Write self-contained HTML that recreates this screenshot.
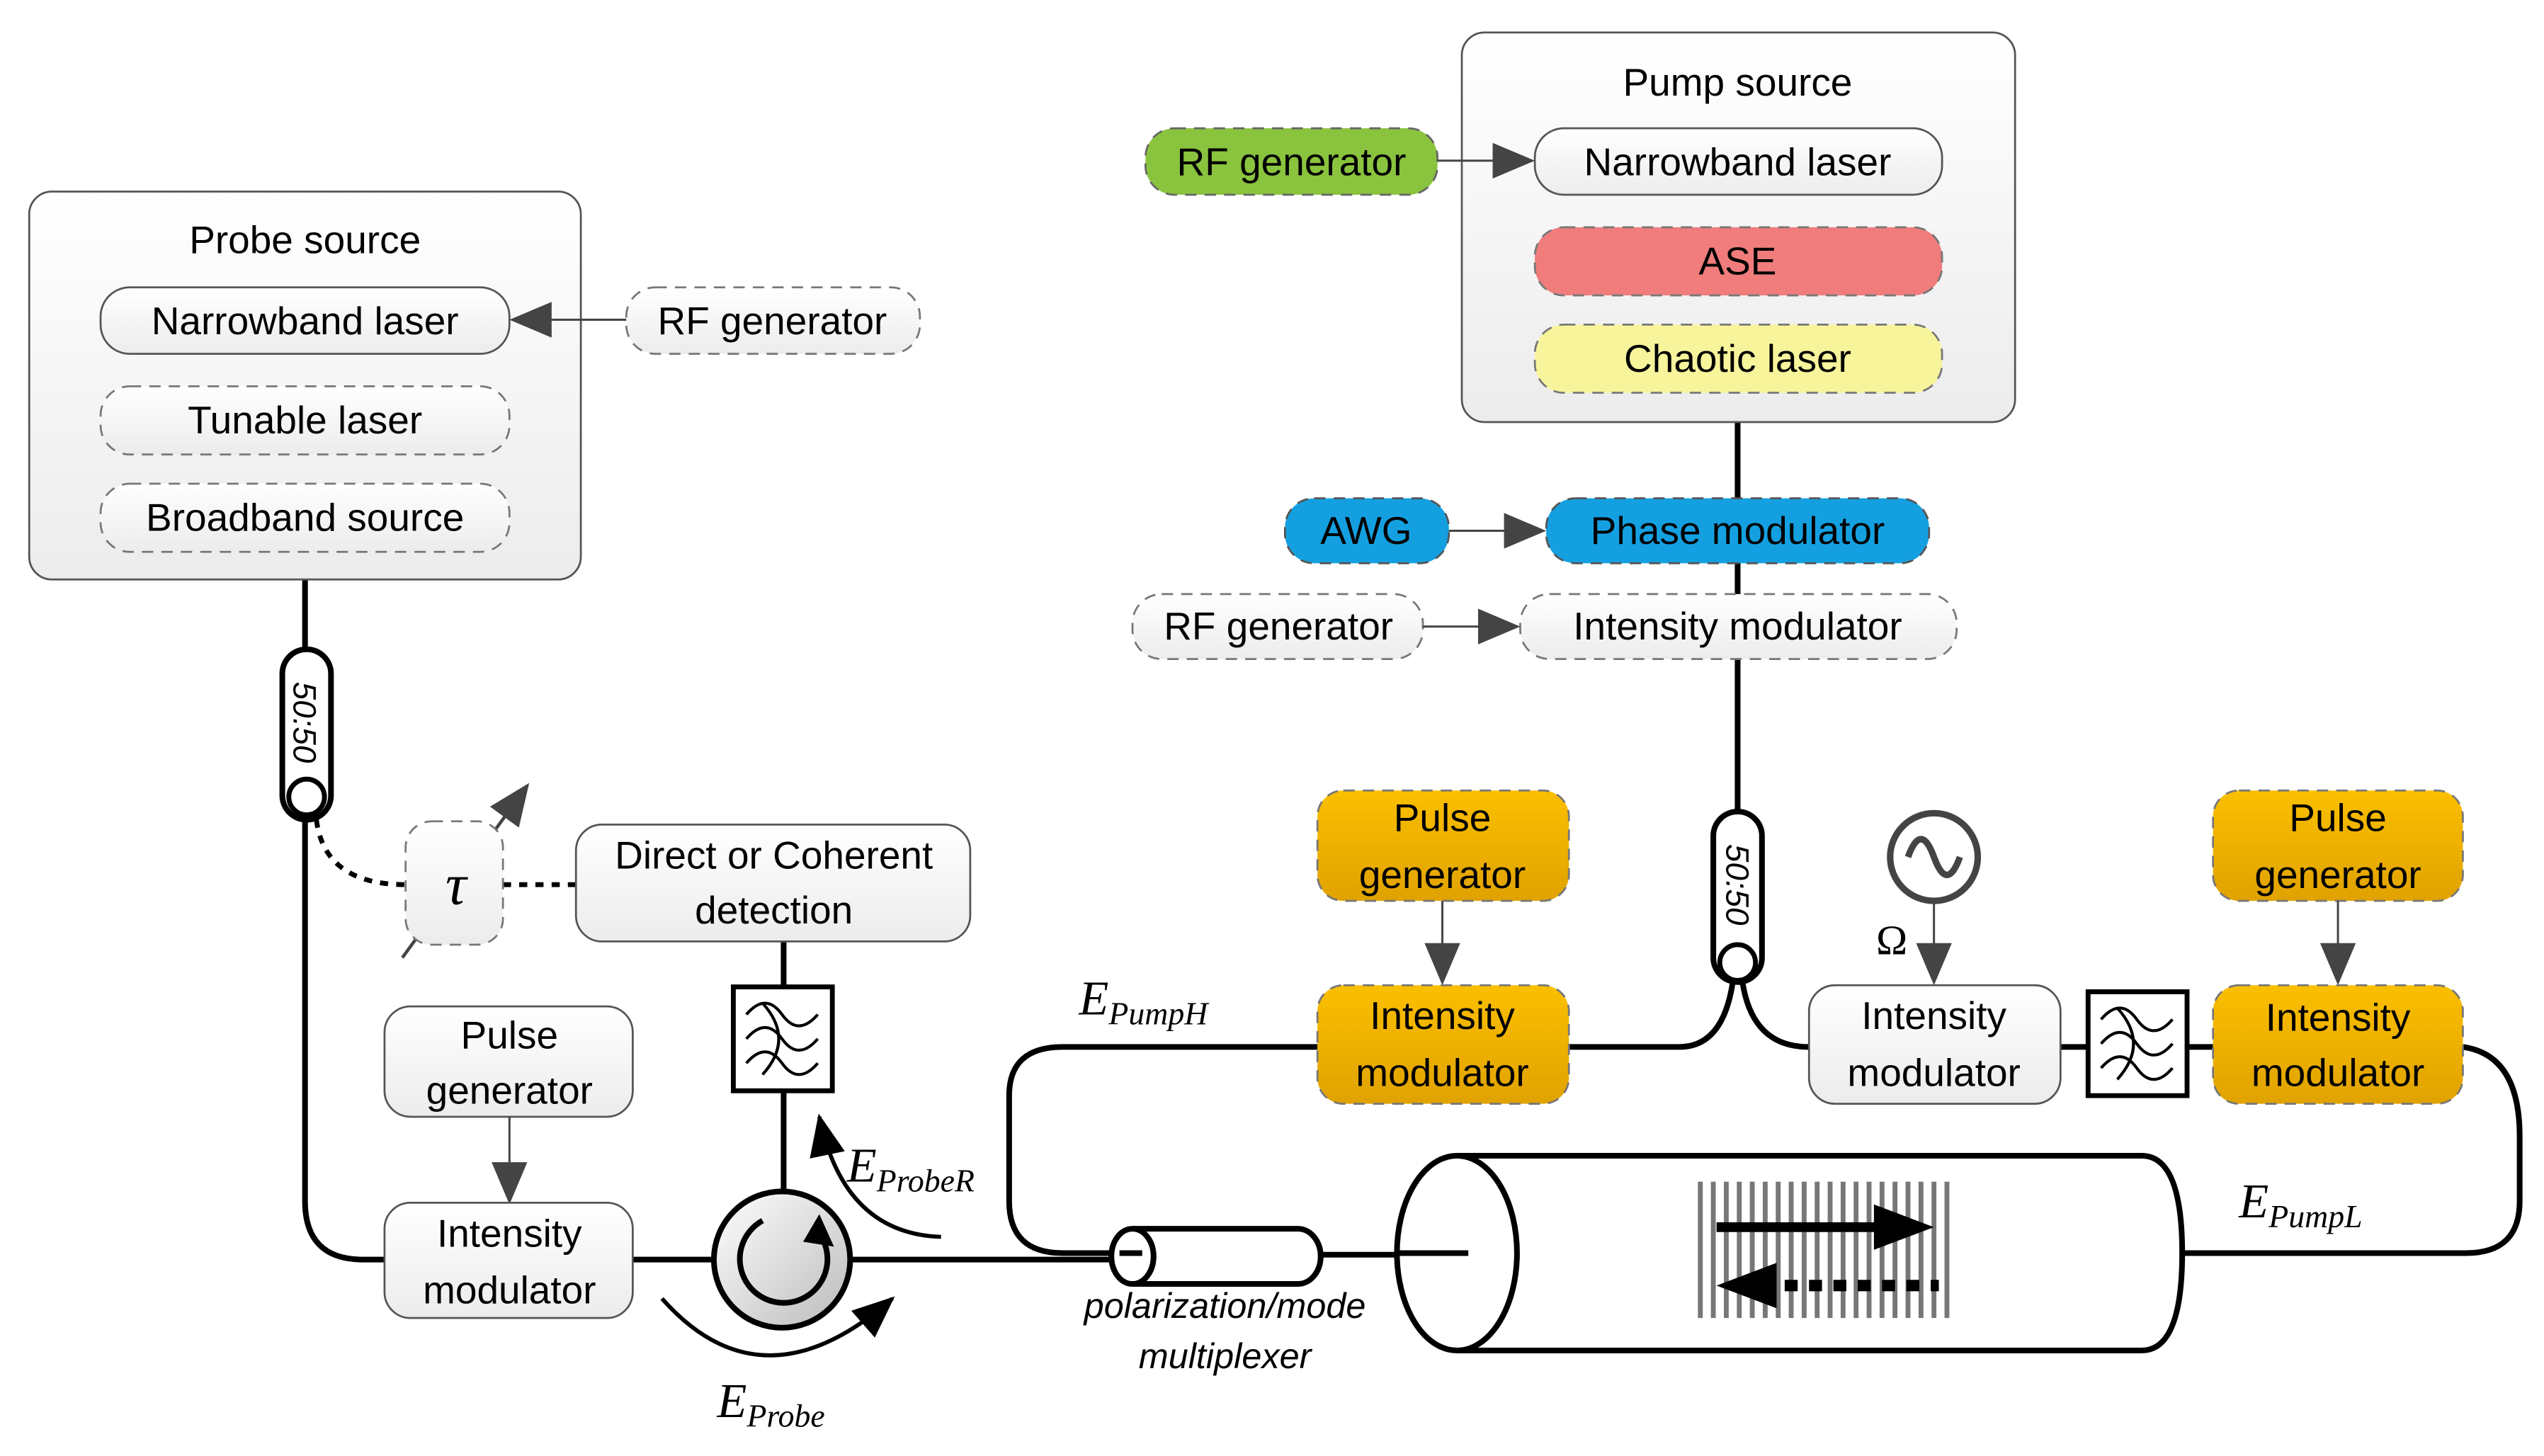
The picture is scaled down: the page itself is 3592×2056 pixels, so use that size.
<!DOCTYPE html>
<html><head><meta charset="utf-8"><style>
html,body{margin:0;padding:0;background:#fff}
svg{display:block}
text{font-family:"Liberation Sans",sans-serif;font-size:24px;fill:#000;text-anchor:middle}
.m{font-family:"Liberation Serif",serif;font-style:italic;text-anchor:start}
</style></head><body>
<svg width="3592" height="2056" viewBox="0 0 1568 897" preserveAspectRatio="none" xmlns="http://www.w3.org/2000/svg">
<defs>
<linearGradient id="g" x1="0" y1="0" x2="0" y2="1"><stop offset="0" stop-color="#ffffff"/><stop offset="1" stop-color="#ececec"/></linearGradient>
<linearGradient id="o" x1="0" y1="0" x2="0" y2="1"><stop offset="0" stop-color="#fbbf00"/><stop offset="1" stop-color="#e0a200"/></linearGradient>
<linearGradient id="c" x1="0" y1="0" x2="1" y2="1"><stop offset="0" stop-color="#fff"/><stop offset="1" stop-color="#bbb"/></linearGradient>
<marker id="A" markerWidth="26" markerHeight="22" refX="24" refY="11" orient="auto" markerUnits="userSpaceOnUse"><path d="M0,0 L26,11 L0,22 z" fill="#444"/></marker>
<marker id="B" markerWidth="26" markerHeight="22" refX="24" refY="11" orient="auto" markerUnits="userSpaceOnUse"><path d="M0,0 L26,11 L0,22 z" fill="#000"/></marker>
</defs>
<g fill="none" stroke="#000" stroke-width="3.5">
<path d="M188,357 V400"/>
<path d="M188,505 V740 Q188,776 224,776 H237"/>
<path d="M390,776 H440"/>
<path d="M524,776 H690"/>
<path d="M483,580 V608 M483,672 V735"/>
<path d="M815,773 H900"/>
<path d="M690,772 H655 Q622,772 622,740 V675 Q622,645 655,645 H812"/>
<path d="M967,645 H1035 Q1062,645 1068,605"/>
<path d="M1074,605 Q1080,645 1115,645"/>
<path d="M1071,260 V500"/>
<path d="M1270,645 H1287 M1348,645 H1364"/>
<path d="M1518,645 Q1553,650 1553,700 V740 Q1553,772 1520,772 H1345"/>
</g>
<path d="M195,505 Q200,545 250,545" fill="none" stroke="#000" stroke-width="3" stroke-dasharray="5,5"/>
<path d="M310,545 H355" fill="none" stroke="#000" stroke-width="3" stroke-dasharray="5,5"/>
<rect x="18" y="118" width="340" height="239" rx="14" fill="url(#g)" stroke="#555" stroke-width="1.2"/>
<text x="188" y="156">Probe source</text>
<rect x="62" y="177" width="252" height="41" rx="18" fill="url(#g)" stroke="#555" stroke-width="1.2"/>
<text x="188" y="206">Narrowband laser</text>
<rect x="62" y="238" width="252" height="42" rx="18" fill="url(#g)" stroke="#777" stroke-width="1.2" stroke-dasharray="7,5"/>
<text x="188" y="267">Tunable laser</text>
<rect x="62" y="298" width="252" height="42" rx="18" fill="url(#g)" stroke="#777" stroke-width="1.2" stroke-dasharray="7,5"/>
<text x="188" y="327">Broadband source</text>
<rect x="386" y="177" width="181" height="41" rx="18" fill="url(#g)" stroke="#777" stroke-width="1.2" stroke-dasharray="7,5"/>
<text x="476" y="206">RF generator</text>
<line x1="386" y1="197" x2="316" y2="197" stroke="#444" stroke-width="1.3" marker-end="url(#A)"/>
<rect x="174" y="400" width="30" height="105" rx="15" fill="#fff" stroke="#000" stroke-width="3.5"/>
<circle cx="189" cy="491" r="11" fill="#fff" stroke="#000" stroke-width="3"/>
<text transform="translate(181,445) rotate(90)" style="font-size:20px;font-style:italic">50:50</text>
<line x1="248" y1="590" x2="325" y2="484" stroke="#444" stroke-width="2" marker-end="url(#A)"/>
<rect x="250" y="506" width="60" height="76" rx="16" fill="url(#g)" stroke="#777" stroke-width="1.2" stroke-dasharray="7,5"/>
<text x="281" y="557" style="font-family:'Liberation Serif',serif;font-style:italic;font-size:36px">τ</text>
<rect x="355" y="508" width="243" height="72" rx="16" fill="url(#g)" stroke="#555" stroke-width="1.2"/>
<text x="477" y="535">Direct or Coherent</text>
<text x="477" y="569">detection</text>
<rect x="452" y="608" width="61" height="64" fill="#fff" stroke="#000" stroke-width="3"/>
<g fill="none" stroke="#000" stroke-width="1.8"><path d="M460,625 q12,-14 22,0 t22,0 M460,640 q12,-14 22,0 t22,0 M460,655 q12,-14 22,0 t22,0"/><path d="M470,618 Q490,640 470,662"/></g>
<rect x="237" y="620" width="153" height="68" rx="16" fill="url(#g)" stroke="#555" stroke-width="1.2"/>
<text x="314" y="646">Pulse</text><text x="314" y="680">generator</text>
<line x1="314" y1="688" x2="314" y2="740" stroke="#444" stroke-width="1.3" marker-end="url(#A)"/>
<rect x="237" y="741" width="153" height="71" rx="16" fill="url(#g)" stroke="#555" stroke-width="1.2"/>
<text x="314" y="768">Intensity</text><text x="314" y="803">modulator</text>
<circle cx="482" cy="776" r="42" fill="url(#c)" stroke="#000" stroke-width="3.5"/>
<path d="M505,760 A27,27 0 1 1 470,752" fill="none" stroke="#000" stroke-width="3.5"/>
<path d="M495,765 L505,748 L514,768 z" fill="#000"/>
<path d="M408,800 Q470,870 550,800" fill="none" stroke="#000" stroke-width="2.5" marker-end="url(#B)"/>
<path d="M580,762 Q520,760 505,688" fill="none" stroke="#000" stroke-width="2.5" marker-end="url(#B)"/>
<text class="m" x="522" y="728" style="font-size:30px">E<tspan style="font-size:20px" dy="6">ProbeR</tspan></text>
<text class="m" x="442" y="873" style="font-size:30px">E<tspan style="font-size:20px" dy="6">Probe</tspan></text>
<text class="m" x="665" y="625" style="font-size:30px">E<tspan style="font-size:20px" dy="6">PumpH</tspan></text>
<text class="m" x="1380" y="750" style="font-size:30px">E<tspan style="font-size:20px" dy="6">PumpL</tspan></text>
<path d="M698,757 H800 A14,17 0 0 1 800,791 H698" fill="#fff" stroke="#000" stroke-width="3.5"/>
<ellipse cx="698" cy="774" rx="13" ry="17" fill="#fff" stroke="#000" stroke-width="3.5"/>
<path d="M690,772 H704" stroke="#000" stroke-width="3.5"/>
<text x="755" y="812" style="font-style:italic;font-size:22px">polarization/mode</text>
<text x="755" y="843" style="font-style:italic;font-size:22px">multiplexer</text>
<path d="M898,712 H1320 Q1345,712 1345,772 Q1345,832 1320,832 H898" fill="#fff" stroke="#000" stroke-width="3.5"/>
<ellipse cx="898" cy="772" rx="37" ry="60" fill="#fff" stroke="#000" stroke-width="3.5"/>
<path d="M862,772 H905" stroke="#000" stroke-width="3.5"/>
<g stroke="#777" stroke-width="3">
<path d="M1048,728V812M1056,728V812M1064,728V812M1072,728V812M1080,728V812M1088,728V812M1096,728V812M1104,728V812M1112,728V812M1120,728V812M1128,728V812M1136,728V812M1144,728V812M1152,728V812M1160,728V812M1168,728V812M1176,728V812M1184,728V812M1192,728V812M1200,728V812"/>
</g>
<path d="M1058,756 H1160" stroke="#000" stroke-width="6"/>
<path d="M1155,742 L1192,756 L1155,770 z" fill="#000"/>
<path d="M1100,792 H1195" stroke="#000" stroke-width="7" stroke-dasharray="8,7"/>
<path d="M1095,778 L1058,792 L1095,806 z" fill="#000"/>
<rect x="901" y="20" width="341" height="240" rx="14" fill="url(#g)" stroke="#555" stroke-width="1.2"/>
<text x="1071" y="59">Pump source</text>
<rect x="946" y="79" width="251" height="41" rx="18" fill="url(#g)" stroke="#555" stroke-width="1.2"/>
<text x="1071" y="108">Narrowband laser</text>
<rect x="946" y="140" width="251" height="42" rx="18" fill="#f07c7c" stroke="#777" stroke-width="1.2" stroke-dasharray="7,5"/>
<text x="1071" y="169">ASE</text>
<rect x="946" y="200" width="251" height="42" rx="18" fill="#f7f49c" stroke="#777" stroke-width="1.2" stroke-dasharray="7,5"/>
<text x="1071" y="229">Chaotic laser</text>
<rect x="706" y="79" width="180" height="41" rx="18" fill="#8ac33e" stroke="#666" stroke-width="1.2" stroke-dasharray="7,5"/>
<text x="796" y="108">RF generator</text>
<line x1="886" y1="99" x2="944" y2="99" stroke="#444" stroke-width="1.3" marker-end="url(#A)"/>
<rect x="792" y="307" width="101" height="40" rx="18" fill="#14a0e0" stroke="#555" stroke-width="1.2" stroke-dasharray="7,5"/>
<text x="842" y="335">AWG</text>
<rect x="953" y="307" width="236" height="40" rx="18" fill="#14a0e0" stroke="#555" stroke-width="1.2" stroke-dasharray="7,5"/>
<text x="1071" y="335">Phase modulator</text>
<line x1="893" y1="327" x2="951" y2="327" stroke="#444" stroke-width="1.3" marker-end="url(#A)"/>
<rect x="698" y="366" width="179" height="40" rx="18" fill="url(#g)" stroke="#777" stroke-width="1.2" stroke-dasharray="7,5"/>
<text x="788" y="394">RF generator</text>
<rect x="937" y="366" width="269" height="40" rx="18" fill="url(#g)" stroke="#777" stroke-width="1.2" stroke-dasharray="7,5"/>
<text x="1071" y="394">Intensity modulator</text>
<line x1="877" y1="386" x2="935" y2="386" stroke="#444" stroke-width="1.3" marker-end="url(#A)"/>
<rect x="1056" y="500" width="30" height="105" rx="15" fill="#fff" stroke="#000" stroke-width="3.5"/>
<circle cx="1071" cy="593" r="11" fill="#fff" stroke="#000" stroke-width="3"/>
<text transform="translate(1064,545) rotate(90)" style="font-size:20px;font-style:italic">50:50</text>
<rect x="812" y="487" width="155" height="68" rx="16" fill="url(#o)" stroke="#777" stroke-width="1.2" stroke-dasharray="7,5"/>
<text x="889" y="512">Pulse</text><text x="889" y="547">generator</text>
<line x1="889" y1="555" x2="889" y2="605" stroke="#444" stroke-width="1.3" marker-end="url(#A)"/>
<rect x="812" y="607" width="155" height="73" rx="16" fill="url(#o)" stroke="#777" stroke-width="1.2" stroke-dasharray="7,5"/>
<text x="889" y="634">Intensity</text><text x="889" y="669">modulator</text>
<rect x="1364" y="487" width="154" height="68" rx="16" fill="url(#o)" stroke="#777" stroke-width="1.2" stroke-dasharray="7,5"/>
<text x="1441" y="512">Pulse</text><text x="1441" y="547">generator</text>
<line x1="1441" y1="555" x2="1441" y2="605" stroke="#444" stroke-width="1.3" marker-end="url(#A)"/>
<rect x="1364" y="607" width="154" height="73" rx="16" fill="url(#o)" stroke="#777" stroke-width="1.2" stroke-dasharray="7,5"/>
<text x="1441" y="635">Intensity</text><text x="1441" y="669">modulator</text>
<rect x="1115" y="607" width="155" height="73" rx="16" fill="url(#g)" stroke="#555" stroke-width="1.2"/>
<text x="1192" y="634">Intensity</text><text x="1192" y="669">modulator</text>
<circle cx="1192" cy="528" r="27" fill="#fff" stroke="#444" stroke-width="4"/>
<path d="M1176,528 q8,-22 16,0 t16,0" fill="none" stroke="#444" stroke-width="4"/>
<line x1="1192" y1="555" x2="1192" y2="605" stroke="#444" stroke-width="1.3" marker-end="url(#A)"/>
<text x="1166" y="588" style="font-family:'Liberation Serif',serif;font-size:26px">Ω</text>
<rect x="1287" y="611" width="61" height="64" fill="#fff" stroke="#000" stroke-width="3"/>
<g fill="none" stroke="#000" stroke-width="1.8"><path d="M1295,628 q12,-14 22,0 t22,0 M1295,643 q12,-14 22,0 t22,0 M1295,658 q12,-14 22,0 t22,0"/><path d="M1305,621 Q1325,643 1305,665"/></g>
</svg>
</body></html>
